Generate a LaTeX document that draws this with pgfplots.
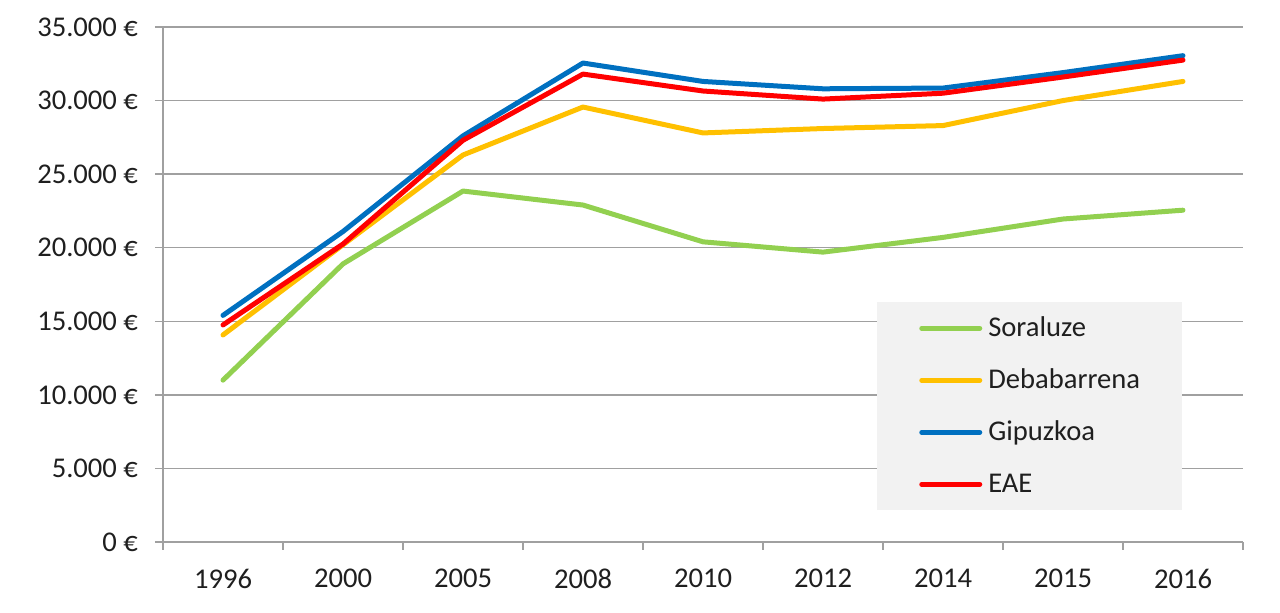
\documentclass[border=0pt]{standalone}
\usepackage{pgfplots}
\pgfplotsset{compat=1.18}
\usepackage{fontspec}
\setmainfont{Carlito}

\definecolor{sorgreen}{HTML}{92D050}
\definecolor{debgold}{HTML}{FFC000}
\definecolor{gipblue}{HTML}{0070C0}
\definecolor{eaered}{HTML}{FF0000}
\definecolor{gridgray}{HTML}{A0A0A0}
\definecolor{leggray}{HTML}{F2F2F2}
\definecolor{txt}{HTML}{1F1F1F}

\newcommand\lbl{\fontsize{14.3pt}{16pt}\selectfont}

\begin{document}
\begin{tikzpicture}
% picture frame: 1280x613 px at 0.5pt per px
\path[use as bounding box] (-81.5pt,-35.5pt) rectangle (558.5pt,271pt);
\begin{axis}[
    scale only axis,
    width=540pt, height=257.5pt,
    xmin=-0.5, xmax=8.5,
    ymin=0, ymax=35000,
    axis lines*=left,
    axis line style={gridgray, line width=0.75pt},
    tick align=outside,
    major tick length=4pt,
    tick style={gridgray, line width=0.75pt},
    xtick={-0.5,0.5,...,8.5},
    xticklabels={1996,2000,2005,2008,2010,2012,2014,2015,2016,{}},
    xticklabel style={font=\lbl, text=txt, xshift=30pt, yshift=-6pt},
    ytick={0,5000,...,35000},
    yticklabels={0 €,5.000 €,10.000 €,15.000 €,20.000 €,25.000 €,30.000 €,35.000 €},
    yticklabel style={font=\lbl, text=txt, xshift=-5pt},
    scaled y ticks=false,
    ymajorgrids,
    grid style={gridgray, line width=0.75pt},
    legend image code/.code={\draw[#1] (0pt,0pt) -- (29pt,0pt);},
    legend cell align=left,
    legend style={
        at={(axis description cs:0.661,0.466)}, anchor=north west,
        draw=none, fill=leggray,
        font=\lbl, text=txt,
        inner xsep=21pt, inner ysep=0pt,
        nodes={inner sep=0pt, minimum height=26pt},
        row sep=0pt,
        /tikz/every odd column/.append style={column sep=3pt},
    },
    every axis plot/.append style={line width=2.5pt, line cap=round, line join=round},
]
\addplot[sorgreen] coordinates {
    (0,11000) (1,18900) (2,23850) (3,22900) (4,20400)
    (5,19700) (6,20700) (7,21950) (8,22550)
};
\addlegendentry{Soraluze}
\addplot[debgold] coordinates {
    (0,14070) (1,20200) (2,26300) (3,29560) (4,27800)
    (5,28100) (6,28300) (7,30000) (8,31300)
};
\addlegendentry{Debabarrena}
\addplot[gipblue] coordinates {
    (0,15400) (1,21100) (2,27600) (3,32550) (4,31300)
    (5,30800) (6,30850) (7,31900) (8,33050)
};
\addlegendentry{Gipuzkoa}
\addplot[eaered] coordinates {
    (0,14750) (1,20250) (2,27300) (3,31800) (4,30650)
    (5,30100) (6,30500) (7,31600) (8,32750)
};
\addlegendentry{EAE}
\end{axis}
\end{tikzpicture}
\end{document}
